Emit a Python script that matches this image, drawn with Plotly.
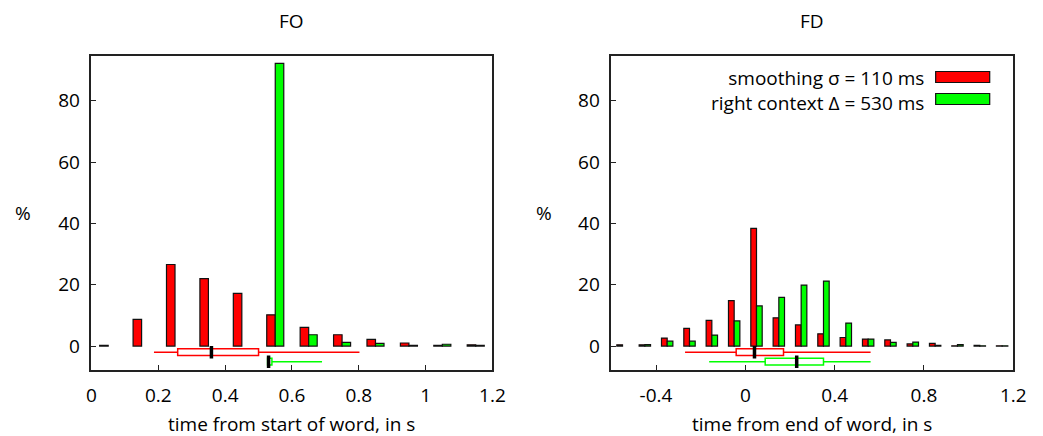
import plotly.graph_objects as go

# ---------------- data ----------------
fo_bins = [0.05, 0.15, 0.25, 0.35, 0.45, 0.55, 0.65, 0.75, 0.85, 0.95, 1.05, 1.15]
fo_smoothing = [0.2, 8.7, 26.6, 22.0, 17.2, 10.2, 6.1, 3.7, 2.2, 1.0, 0.2, 0.4]
fo_context = [None, None, None, None, None, 92.2, 3.7, 1.2, 0.9, 0.2, 0.6, 0.2]

fd_bins = [-0.55, -0.45, -0.35, -0.25, -0.15, -0.05, 0.05, 0.15, 0.25, 0.35,
           0.45, 0.55, 0.65, 0.75, 0.85, 0.95, 1.05, 1.15]
fd_smoothing = [0.4, 0.4, 2.6, 5.8, 8.4, 14.8, 38.4, 9.2, 6.9, 4.0,
                2.8, 2.3, 2.0, 0.7, 0.9, 0.1, 0.2, 0.1]
fd_context = [None, 0.5, 1.6, 1.6, 3.6, 8.2, 13.1, 15.9, 19.9, 21.2,
              7.5, 2.3, 1.2, 1.3, 0.2, 0.5, 0.1, 0.1]

# box summaries: lower whisker, q1, median, q3, upper whisker
fo_box_smoothing = [0.187, 0.258, 0.359, 0.500, 0.802]
fo_box_context = [0.530, 0.527, 0.530, 0.540, 0.690]
fd_box_smoothing = [-0.270, -0.041, 0.041, 0.171, 0.561]
fd_box_context = [-0.162, 0.089, 0.230, 0.350, 0.561]
box_rows = [-2.0, -5.1]

series_names = ["smoothing σ = 110 ms", "right context Δ = 530 ms"]
series_colors = ["#ff0000", "#00ff00"]
panel_titles = ["FO", "FD"]
x_titles = ["time from start of word, in s", "time from end of word, in s"]
fo_xticks = [0, 0.2, 0.4, 0.6, 0.8, 1, 1.2]
fd_xticks = [-0.4, 0, 0.4, 0.8, 1.2]
y_ticks = [0, 20, 40, 60, 80]

FONT = "Open Sans"
FS = 19
W, H = 1043, 436
BAR_W = 0.0255

fig = go.Figure()

def add_panel(xa, ya, bins, red, green, boxes):
    for vals, col, off in ((red, series_colors[0], -BAR_W), (green, series_colors[1], 0.0)):
        fig.add_trace(go.Bar(x=bins, y=vals, width=BAR_W, offset=off,
                             marker=dict(color=col, line=dict(color="#111111", width=1.2)),
                             xaxis=xa, yaxis=ya, showlegend=False, hoverinfo="x+y"))
    for stats, col, row in zip(boxes, series_colors, box_rows):
        lw, q1, med, q3, uw = stats
        fig.add_trace(go.Box(y=[row], q1=[q1], median=[med], q3=[q3],
                             lowerfence=[lw], upperfence=[uw], orientation="h",
                             width=2.2, whiskerwidth=0, fillcolor="white",
                             line=dict(color=col, width=1.5), boxpoints=False,
                             xaxis=xa, yaxis=ya, showlegend=False))
        fig.add_trace(go.Scatter(x=[med], y=[row], mode="markers",
                                 marker=dict(symbol="line-ns", size=9,
                                             line=dict(color="black", width=3.5)),
                                 xaxis=xa, yaxis=ya, showlegend=False, hoverinfo="skip"))

add_panel("x", "y", fo_bins, fo_smoothing, fo_context, [fo_box_smoothing, fo_box_context])
add_panel("x2", "y2", fd_bins, fd_smoothing, fd_context, [fd_box_smoothing, fd_box_context])

px = lambda v: v / W
py = lambda v: 1 - v / H

dom1 = [px(88), px(496)]
dom2 = [px(617), px(1026)]
ydom = [py(370), py(55.7)]

axis_common = dict(showline=True, mirror=True, linecolor="#222222", linewidth=1.5,
                   ticks="inside", ticklen=5, tickcolor="#222222", tickwidth=1,
                   showgrid=False, zeroline=False,
                   tickfont=dict(family=FONT, size=FS, color="black"))

fig.update_layout(
    width=W, height=H, margin=dict(l=0, r=0, t=0, b=0),
    paper_bgcolor="white", plot_bgcolor="white",
    barmode="overlay", boxmode="overlay",
    font=dict(family=FONT, size=FS, color="black"),
    xaxis=dict(domain=dom1, range=[0, 1.2], tickvals=fo_xticks,
               ticktext=[f"{v:g}" for v in fo_xticks], anchor="y",
               ticklabelstandoff=7, **axis_common),
    yaxis=dict(domain=ydom, range=[-7.8, 94.7], tickvals=y_ticks, anchor="x",
               ticklabelstandoff=6, **axis_common),
    xaxis2=dict(domain=dom2, range=[-0.6, 1.2], tickvals=fd_xticks,
                ticktext=[f"{v:g}" for v in fd_xticks], anchor="y2",
                ticklabelstandoff=7, **axis_common),
    yaxis2=dict(domain=ydom, range=[-7.8, 94.7], tickvals=y_ticks, anchor="x2",
                ticklabelstandoff=6, **axis_common),
)

ann = []
for t, cx in zip(panel_titles, [292, 821.5]):
    ann.append(dict(text=t, x=px(cx), y=py(21), xref="paper", yref="paper",
                    showarrow=False, xanchor="center", yanchor="middle",
                    font=dict(family=FONT, size=FS)))
for t, cx in zip(x_titles, [292, 821.5]):
    ann.append(dict(text=t, x=px(cx), y=py(424), xref="paper", yref="paper",
                    showarrow=False, xanchor="center", yanchor="middle",
                    font=dict(family=FONT, size=FS)))
for cx in [18, 548]:
    ann.append(dict(text="%", x=px(cx), y=py(213), xref="paper", yref="paper",
                    showarrow=False, xanchor="center", yanchor="middle",
                    font=dict(family=FONT, size=FS)))
# legend (text right-aligned, swatch on the right)
ann.append(dict(text="<br>".join(series_names), x=px(936), y=py(90),
                xref="paper", yref="paper", showarrow=False, align="right",
                xanchor="right", yanchor="middle", borderpad=0,
                font=dict(family=FONT, size=FS)))
shapes = []
for col, cy in zip(series_colors, [77, 99]):
    shapes.append(dict(type="rect", xref="paper", yref="paper",
                       x0=px(947), x1=px(1002), y0=py(cy - 5.5), y1=py(cy + 5.5),
                       fillcolor=col, line=dict(color="#111111", width=1.2)))
fig.update_layout(annotations=ann, shapes=shapes)

fig.write_html("out.html")
